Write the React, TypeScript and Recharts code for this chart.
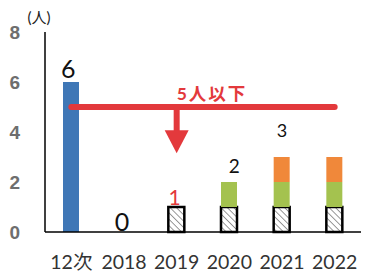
import { ComposedChart, Bar, Line, XAxis, YAxis, ReferenceLine, LabelList } from 'recharts'

const categories = ['12次', '2018', '2019', '2020', '2021', '2022']
const blueCounts = [6, 0, 0, 0, 0, 0]
const hatchedCounts = [0, 0, 1, 1, 1, 1]
const greenCounts = [0, 0, 0, 1, 1, 1]
const orangeCounts = [0, 0, 0, 0, 1, 1]
const valueLabels = ['6', '0', '1', '2', '3', '']
const yTicks = [0, 2, 4, 6, 8]
const limitValue = 5
const limitText = '5人以下'
const arrowAt = '2019'
const arrowTipValue = 3.15

const RED = '#e3393c'
const FONT = "Lato, 'Noto Sans CJK JP', sans-serif"

const chartData = categories.map((category, i) => ({
  category,
  blue: blueCounts[i],
  hatched: hatchedCounts[i],
  green: greenCounts[i],
  orange: orangeCounts[i],
  total: blueCounts[i] + hatchedCounts[i] + greenCounts[i] + orangeCounts[i],
  label: valueLabels[i],
}))

// per-label look, tuned by eye
const labelLook: Record<string, { size: number; dx: number; dy: number; color: string }> = {
  '6': { size: 25, dx: -3, dy: -14, color: '#111' },
  '0': { size: 25, dx: -2, dy: -11, color: '#111' },
  '1': { size: 21, dx: -2, dy: -11, color: RED },
  '2': { size: 19, dx: 5, dy: -17, color: '#111' },
  '3': { size: 18, dx: 0, dy: -27, color: '#111' },
}

function ValueLabel(props: any) {
  const { x, y, value } = props
  const look = labelLook[value]
  if (!look) return null
  return (
    <text
      x={x + look.dx}
      y={y + look.dy}
      textAnchor="middle"
      dominantBaseline="central"
      fontSize={look.size}
      fill={look.color}
      fontFamily={FONT}
    >
      {value}
    </text>
  )
}

function DownArrow(props: any) {
  const { x1, y1, y2 } = props
  const head = 23
  return (
    <g>
      <line x1={x1} y1={y1} x2={x1} y2={y2 - head + 1} stroke={RED} strokeWidth={6} />
      <polygon points={`${x1 - 12},${y2 - head} ${x1 + 12},${y2 - head} ${x1},${y2}`} fill={RED} />
    </g>
  )
}

function UnitLabel(props: any) {
  const vb = props.viewBox || { x: 0, y: 32, width: 45 }
  return (
    <text x={vb.x + vb.width - 6} y={vb.y - 9} textAnchor="middle" fontSize={15} fill="#222" fontFamily={FONT}>
      (人)
    </text>
  )
}

export default function App() {
  return (
    <div style={{ position: 'absolute', left: 0, top: 0, background: '#fff' }}>
      <ComposedChart
        width={365}
        height={276}
        data={chartData}
        margin={{ top: 32, right: 4, left: 0, bottom: 0 }}
        barSize={16}
      >
        <defs>
          <pattern id="hatch" width="4.5" height="4.5" patternUnits="userSpaceOnUse" patternTransform="rotate(-45)">
            <rect width="4.5" height="4.5" fill="#fff" />
            <line x1="0" y1="0" x2="0" y2="4.5" stroke="#555" strokeWidth={1.2} />
          </pattern>
        </defs>
        <XAxis
          dataKey="category"
          interval={0}
          height={44}
          axisLine={{ stroke: '#000', strokeWidth: 1.5 }}
          tickLine={false}
          tickMargin={17}
          tick={{ fontSize: 19.5, fill: '#333', fontFamily: FONT }}
        />
        <YAxis
          domain={[0, 8]}
          ticks={yTicks}
          width={45}
          axisLine={{ stroke: '#000', strokeWidth: 1.5 }}
          tickLine={false}
          tickMargin={19}
          tick={{ fontSize: 19, fill: '#6e6e6e', fontWeight: 'bold', fontFamily: "'Liberation Sans', Arial, sans-serif" }}
          label={<UnitLabel />}
        />
        <Bar dataKey="blue" stackId="s" fill="#3f77b6" isAnimationActive={false} />
        <Bar dataKey="hatched" stackId="s" fill="url(#hatch)" stroke="#000" strokeWidth={2.5} isAnimationActive={false} />
        <Bar dataKey="green" stackId="s" fill="#a4c24f" isAnimationActive={false} />
        <Bar dataKey="orange" stackId="s" fill="#f0883a" isAnimationActive={false} />
        <Line dataKey="total" stroke="none" dot={false} activeDot={false} isAnimationActive={false}>
          <LabelList dataKey="label" content={<ValueLabel />} />
        </Line>
        <ReferenceLine
          segment={[
            { x: categories[0], y: limitValue },
            { x: categories[categories.length - 1], y: limitValue },
          ]}
          stroke={RED}
          strokeWidth={6}
          strokeLinecap="round"
          label={{
            value: limitText,
            position: 'top',
            offset: 7,
            dx: 9,
            fill: RED,
            fontSize: 17.5,
            fontWeight: 'bold',
            letterSpacing: 2,
            fontFamily: FONT,
          }}
        />
        <ReferenceLine
          segment={[
            { x: arrowAt, y: limitValue },
            { x: arrowAt, y: arrowTipValue },
          ]}
          shape={<DownArrow />}
        />
      </ComposedChart>
    </div>
  )
}
